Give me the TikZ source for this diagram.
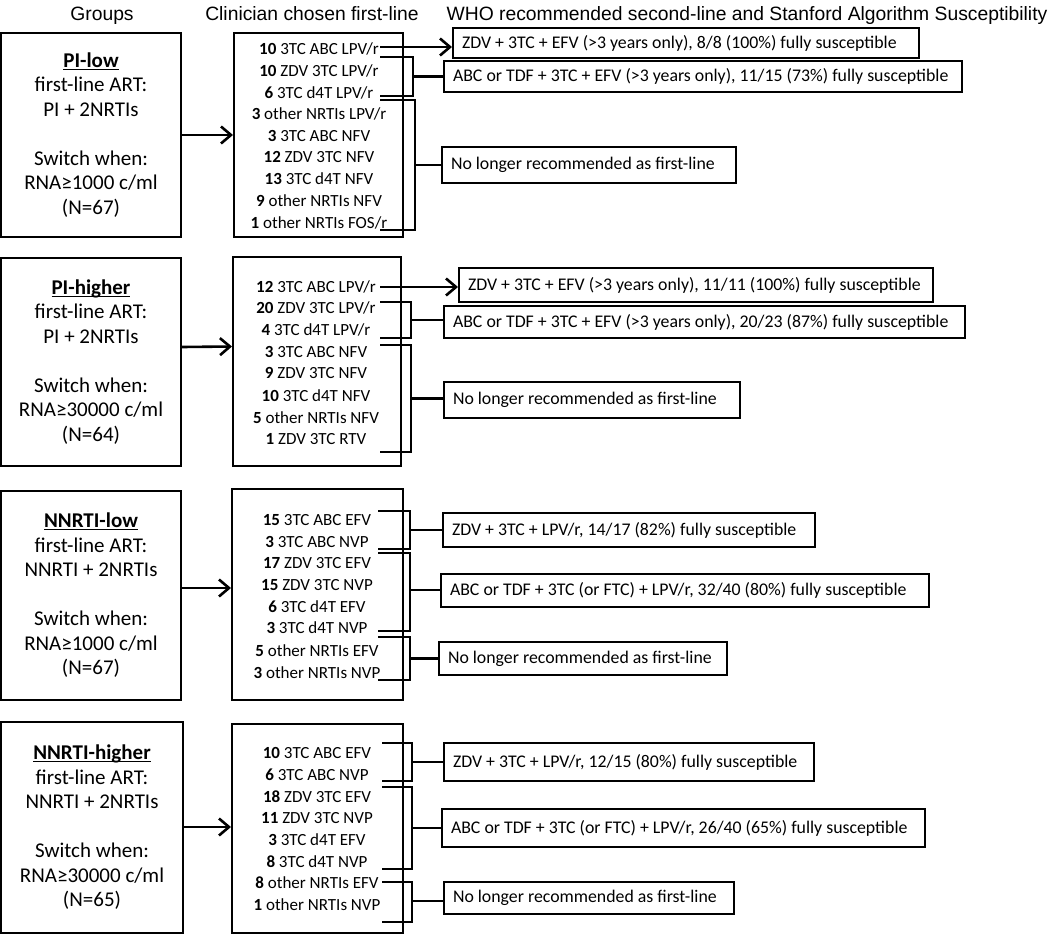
\documentclass[tikz,border=0pt]{standalone}
\usepackage{fontspec}
\setmainfont{Carlito}
\newfontfamily\hdfont{Liberation Sans}
\usepackage{tikz}
\usetikzlibrary{arrows.meta}
\newcommand{\grp}[1]{\underline{\smash{\textbf{#1}}}\vphantom{\textbf{#1}}}
\newcommand{\rtxt}[2]{\makebox[#1][l]{#2}}

\begin{document}
\begin{tikzpicture}[x=1pt,y=-1pt,
  hd/.style={font=\hdfont\fontsize{19.3}{23}\selectfont,text height=14pt,text depth=0pt,inner sep=0pt},
  grpbox/.style={draw,line width=2pt,align=center,minimum width=180pt,font=\fontsize{21}{24.5}\selectfont},
  firstbox/.style={draw,line width=2pt},
  drug/.style={font=\fontsize{17}{19}\selectfont,text height=11pt,text depth=0pt,inner sep=0pt},
  rec/.style={draw,line width=2pt,anchor=west,inner xsep=9pt,inner ysep=0pt,font=\fontsize{17.8}{21}\selectfont},
  brk/.style={line width=2.6pt},
  arr/.style={line width=2.6pt,-{Straight Barb[length=10pt,width=17pt]}}]
\useasboundingbox (0,0) rectangle (1050,934);
\node[hd] (hgrp) at (102,14) {Groups};
\node[hd] (hcli) at (312,14) {Clinician chosen first-line};
\node[hd] (hwho) at (747,14) {WHO recommended second-line and Stanford Algorithm Susceptibility};
\node[grpbox,minimum height=204pt] (plo) at (91,135) {\grp{PI-low}\\first-line ART:\\PI + 2NRTIs\\[24.5pt]Switch when:\\RNA≥1000 c/ml\\(N=67)};
\node[grpbox,minimum height=208pt] (phi) at (91,362) {\grp{PI-higher}\\first-line ART:\\PI + 2NRTIs\\[24.5pt]Switch when:\\RNA≥30000 c/ml\\(N=64)};
\node[grpbox,minimum height=209pt] (nlo) at (91,595.5) {\grp{NNRTI-low}\\first-line ART:\\NNRTI + 2NRTIs\\[24.5pt]Switch when:\\RNA≥1000 c/ml\\(N=67)};
\node[grpbox,minimum height=211pt,minimum width=182pt] (nhi) at (92,827.5) {\grp{NNRTI-higher}\\first-line ART:\\NNRTI + 2NRTIs\\[24.5pt]Switch when:\\RNA≥30000 c/ml\\(N=65)};
\node[firstbox,minimum width=169pt,minimum height=204pt] (cplo) at (318.5,135) {};
\node[firstbox,minimum width=168pt,minimum height=209pt] (cphi) at (317,361.5) {};
\node[firstbox,minimum width=171pt,minimum height=211pt] (cnlo) at (317.5,594.5) {};
\node[firstbox,minimum width=171pt,minimum height=209pt] (cnhi) at (317.5,828.5) {};
\node[drug] (lo1) at (319,49) {\textbf{10} 3TC ABC LPV/r};
\node[drug] (lo2) at (319,71) {\textbf{10} ZDV 3TC LPV/r};
\node[drug] (lo3) at (319,93) {\textbf{6} 3TC d4T LPV/r};
\node[drug] (lo4) at (319,114) {\textbf{3} other NRTIs LPV/r};
\node[drug] (lo5) at (319,136) {\textbf{3} 3TC ABC NFV};
\node[drug] (lo6) at (319,157) {\textbf{12} ZDV 3TC NFV};
\node[drug] (lo7) at (319,179) {\textbf{13} 3TC d4T NFV};
\node[drug] (lo8) at (319,201) {\textbf{9} other NRTIs NFV};
\node[drug] (lo9) at (319,223) {\textbf{1} other NRTIs FOS/r};
\node[drug] (hi1) at (316,287) {\textbf{12} 3TC ABC LPV/r};
\node[drug] (hi2) at (316,308) {\textbf{20} ZDV 3TC LPV/r};
\node[drug] (hi3) at (316,330) {\textbf{4} 3TC d4T LPV/r};
\node[drug] (hi4) at (316,352) {\textbf{3} 3TC ABC NFV};
\node[drug] (hi5) at (316,373) {\textbf{9} ZDV 3TC NFV};
\node[drug] (hi6) at (316,396) {\textbf{10} 3TC d4T NFV};
\node[drug] (hi7) at (316,418) {\textbf{5} other NRTIs NFV};
\node[drug] (hi8) at (316,439) {\textbf{1} ZDV 3TC RTV};
\node[drug] (nl1) at (317,520) {\textbf{15} 3TC ABC EFV};
\node[drug] (nl2) at (317,542) {\textbf{3} 3TC ABC NVP};
\node[drug] (nl3) at (317,563) {\textbf{17} ZDV 3TC EFV};
\node[drug] (nl4) at (317,585) {\textbf{15} ZDV 3TC NVP};
\node[drug] (nl5) at (317,607) {\textbf{6} 3TC d4T EFV};
\node[drug] (nl6) at (317,628) {\textbf{3} 3TC d4T NVP};
\node[drug] (nl7) at (317,651) {\textbf{5} other NRTIs EFV};
\node[drug] (nl8) at (317,673) {\textbf{3} other NRTIs NVP};
\node[drug] (nh1) at (317,753) {\textbf{10} 3TC ABC EFV};
\node[drug] (nh2) at (317,775) {\textbf{6} 3TC ABC NVP};
\node[drug] (nh3) at (317,797) {\textbf{18} ZDV 3TC EFV};
\node[drug] (nh4) at (317,818) {\textbf{11} ZDV 3TC NVP};
\node[drug] (nh5) at (317,840) {\textbf{3} 3TC d4T EFV};
\node[drug] (nh6) at (317,862) {\textbf{8} 3TC d4T NVP};
\node[drug] (nh7) at (317,883) {\textbf{8} other NRTIs EFV};
\node[drug] (nh8) at (317,905) {\textbf{1} other NRTIs NVP};
\node[rec,minimum height=30pt] (r11) at (452,43) {\rtxt{448pt}{ZDV + 3TC + EFV (>3 years only), 8/8 (100\%) fully susceptible}};
\node[rec,minimum height=31pt] (r12) at (443,76.5) {\rtxt{500pt}{ABC or TDF + 3TC + EFV (>3 years only), 11/15 (73\%) fully susceptible}};
\node[rec,minimum height=36pt] (r13) at (441,165) {\rtxt{276pt}{No longer recommended as first-line}};
\node[rec,minimum height=34pt] (r21) at (458,285) {\rtxt{456pt}{ZDV + 3TC + EFV (>3 years only), 11/11 (100\%) fully susceptible}};
\node[rec,minimum height=32pt] (r22) at (443,322) {\rtxt{503pt}{ABC or TDF + 3TC + EFV (>3 years only), 20/23 (87\%) fully susceptible}};
\node[rec,minimum height=36pt] (r23) at (443,400) {\rtxt{278pt}{No longer recommended as first-line}};
\node[rec,minimum height=34pt] (r31) at (442,530) {\rtxt{354pt}{ZDV + 3TC + LPV/r, 14/17 (82\%) fully susceptible}};
\node[rec,minimum height=33pt] (r32) at (440,590.5) {\rtxt{470pt}{ABC or TDF + 3TC (or FTC) + LPV/r, 32/40 (80\%) fully susceptible}};
\node[rec,minimum height=33pt] (r33) at (438,658.5) {\rtxt{270pt}{No longer recommended as first-line}};
\node[rec,minimum height=38pt] (r41) at (443,762) {\rtxt{352pt}{ZDV + 3TC + LPV/r, 12/15 (80\%) fully susceptible}};
\node[rec,minimum height=38pt] (r42) at (441,828) {\rtxt{465pt}{ABC or TDF + 3TC (or FTC) + LPV/r, 26/40 (65\%) fully susceptible}};
\node[rec,minimum height=32pt] (r43) at (443,898) {\rtxt{272pt}{No longer recommended as first-line}};
\draw[arr] (plo.east) -- (cplo.west);
\draw[arr] ([yshift=15pt]phi.east) -- ([yshift=15pt]cphi.west);
\draw[arr] ([yshift=7.5pt]nlo.east) -- ([yshift=6.5pt]cnlo.west);
\draw[arr] ([yshift=0.5pt]nhi.east) -- ([yshift=1.5pt]cnhi.west);
\coordinate (lot) at (380,47);
\coordinate (loat) at (380,57);
\coordinate (loab) at (380,96);
\coordinate (loas) at (413,76.5);
\coordinate (lobt) at (380,100);
\coordinate (lobb) at (380,230);
\coordinate (lobs) at (415,165);
\draw[arr] (lot) -- (lot -| r11.west);
\draw[brk] (loat) -| (loas) |- (loab);
\draw[brk] (loas) -- (loas -| r12.west);
\draw[brk] (lobt) -| (lobs) |- (lobb);
\draw[brk] (lobs) -- (lobs -| r13.west);
\coordinate (hit) at (380,287);
\coordinate (hiat) at (380,302);
\coordinate (hiab) at (380,338);
\coordinate (hias) at (411,320);
\coordinate (hibt) at (380,345);
\coordinate (hibb) at (380,452);
\coordinate (hibs) at (411,398.5);
\draw[arr] (hit) -- (hit -| r21.west);
\draw[brk] (hiat) -| (hias) |- (hiab);
\draw[brk] (hias) -- (hias -| r22.west);
\draw[brk] (hibt) -| (hibs) |- (hibb);
\draw[brk] (hibs) -- (hibs -| r23.west);
\coordinate (nlat) at (378,511);
\coordinate (nlab) at (378,549);
\coordinate (nlas) at (410,530);
\coordinate (nlbt) at (378,553);
\coordinate (nlbb) at (378,631);
\coordinate (nlbs) at (410,590);
\coordinate (nlct) at (378,637);
\coordinate (nlcb) at (378,680);
\coordinate (nlcs) at (410,658.5);
\draw[brk] (nlat) -| (nlas) |- (nlab);
\draw[brk] (nlas) -- (nlas -| r31.west);
\draw[brk] (nlbt) -| (nlbs) |- (nlbb);
\draw[brk] (nlbs) -- (nlbs -| r32.west);
\draw[brk] (nlct) -| (nlcs) |- (nlcb);
\draw[brk] (nlcs) -- (nlcs -| r33.west);
\coordinate (nhat) at (382,743);
\coordinate (nhab) at (382,781);
\coordinate (nhas) at (412,762);
\coordinate (nhbt) at (382,787);
\coordinate (nhbb) at (382,869);
\coordinate (nhbs) at (412,828);
\coordinate (nhct) at (382,882);
\coordinate (nhcb) at (382,922);
\coordinate (nhcs) at (412,901);
\draw[brk] (nhat) -| (nhas) |- (nhab);
\draw[brk] (nhas) -- (nhas -| r41.west);
\draw[brk] (nhbt) -| (nhbs) |- (nhbb);
\draw[brk] (nhbs) -- (nhbs -| r42.west);
\draw[brk] (nhct) -| (nhcs) |- (nhcb);
\draw[brk] (nhcs) -- (nhcs -| r43.west);
\end{tikzpicture}
\end{document}
